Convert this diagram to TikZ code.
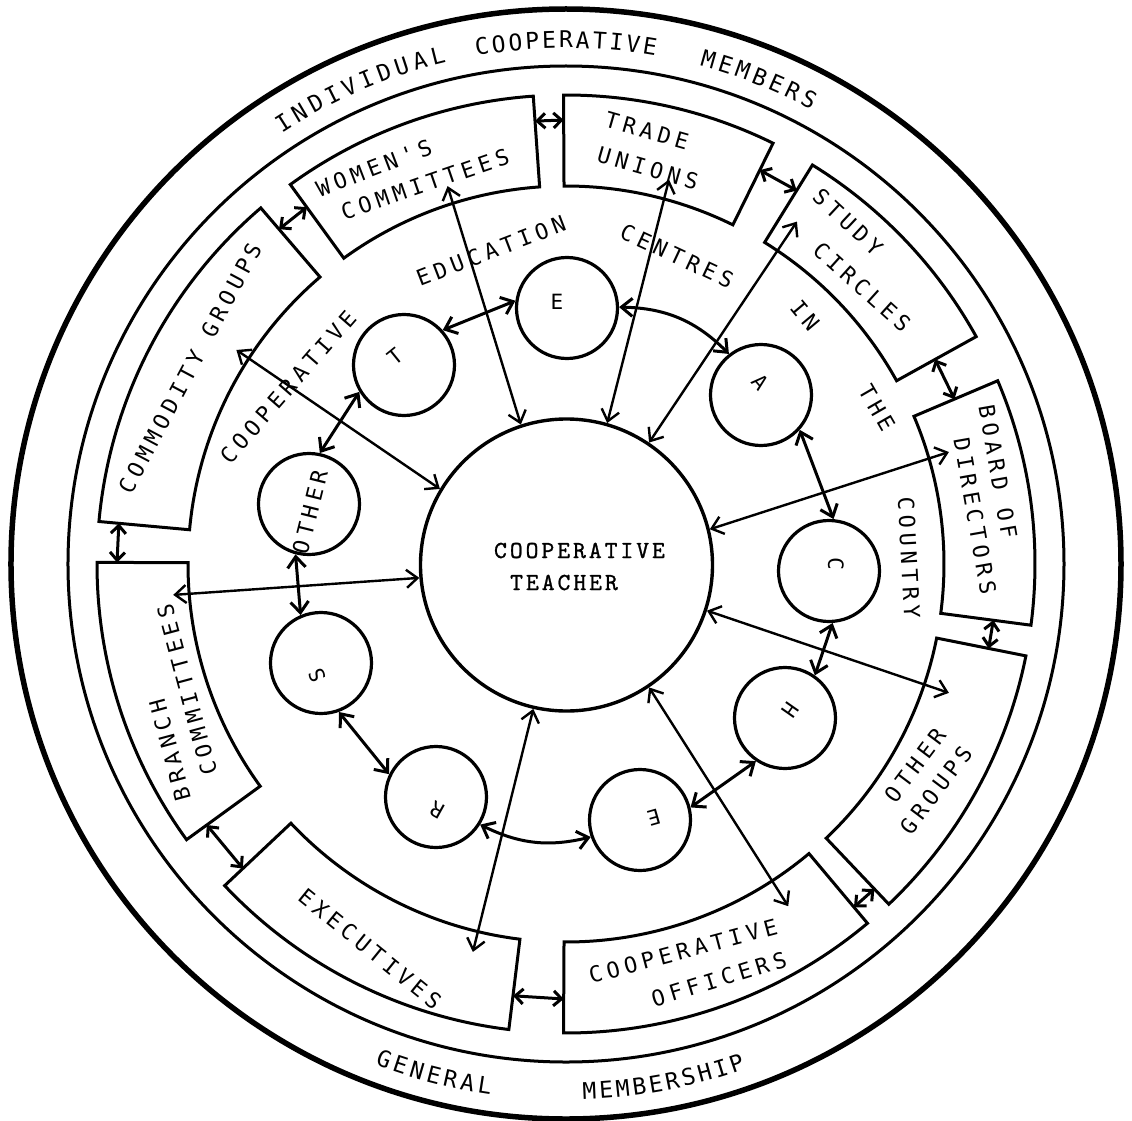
\documentclass[tikz,border=0pt]{standalone}
\usepackage{fontspec}
\usetikzlibrary{arrows.meta,decorations.text}
\newfontfamily\plotfont[LetterSpace=22]{DejaVu Sans Mono}
\newfontfamily\ringfam{DejaVu Sans Mono}
\newfontfamily\typefam[Extension=.otf, LetterSpace=12, FakeBold=1]{lmmono10-regular}
\newcommand\mybox{\plotfont\fontsize{22}{26}\selectfont}
\newcommand\mysmall{\plotfont\fontsize{21}{25}\selectfont}
\newcommand\myring{\ringfam\fontsize{23}{27}\selectfont}
\newcommand\mytype{\typefam\fontsize{24.5}{32}\selectfont}
\tikzset{
  boxline/.style={line width=3pt, line join=miter},
  bigc/.style={circle, draw, line width=3.4pt, minimum size=292pt, inner sep=0pt},
  smallc/.style={circle, draw, line width=3.2pt, minimum size=101pt, inner sep=0pt},
  lbl/.style={font=\mybox, inner sep=0pt},
  ltr/.style={font=\mysmall, inner sep=0pt},
  ctext/.style={font=\mytype, inner sep=0pt},
  radarrow/.style={line width=2.4pt, >={Straight Barb[length=11pt,width=18pt]}, <->},
  circarrow/.style={line width=3pt, >={Straight Barb[length=11pt,width=18pt]}, <->},
  gaparrow/.style={line width=3pt, >={Straight Barb[length=8pt,width=15pt]}, <->},
  ringtext/.style={decorate, decoration={text along path, text align={fit to path}, text={|\myring|#1}}},
}
\begin{document}
\begin{tikzpicture}[x=1pt,y=1pt]
\useasboundingbox (-566,-556) rectangle (566,564);
\fill[white] (-566,-556) rectangle (566,564);

% outer rings
\draw[line width=5.5pt] (0,0) circle[radius=555pt];
\draw[line width=3pt] (0,0) circle[radius=498pt];

% ring texts
\path[ringtext=INDIVIDUAL] (123.4:516pt) arc[start angle=123.4, end angle=103.4, radius=516pt];
\path[ringtext=COOPERATIVE] (100:516pt) arc[start angle=100, end angle=80, radius=516pt];
\path[ringtext=MEMBERS] (75:516pt) arc[start angle=75, end angle=61.6, radius=516pt];
\path[ringtext=GENERAL] (-110.9:536pt) arc[start angle=-110.9, end angle=-98.1, radius=536pt];
\path[ringtext=MEMBERSHIP] (-88.2:536pt) arc[start angle=-88.2, end angle=-70.4, radius=536pt];

% boxes (annular sectors)
\foreach \sa/\sb in {63.8/90.3, 94/126, 130.6/174.8, 179.8/216, 223.3/263, 269.7/310, 313.5/348.7, 352.5/383, 29/58.3}
  \draw[boxline] (\sa:378pt) arc[start angle=\sa, end angle=\sb, radius=378pt] -- (\sb:469pt) arc[start angle=\sb, end angle=\sa, radius=469pt] -- cycle;

% box labels
\node[lbl, rotate=-16] (tu1) at (81,433) {TRADE};
\node[lbl, rotate=-16] (tu2) at (82,396) {UNIONS};
\node[lbl, rotate=21] (wc1) at (-192,396) {WOMEN'S};
\node[lbl, rotate=19] (wc2) at (-141,380) {COMMITTEES};
\node[lbl, rotate=62] (cg1) at (-376,196) {COMMODITY GROUPS};
\node[lbl, rotate=105] (bc1) at (-396,-186) {BRANCH};
\node[lbl, rotate=105] (bc2) at (-379,-126) {COMMITTEES};
\node[lbl, rotate=-39] (ex1) at (-196,-385) {EXECUTIVES};
\node[lbl, rotate=15] (co1) at (117,-387) {COOPERATIVE};
\node[lbl, rotate=17] (co2) at (153,-415) {OFFICERS};
\node[lbl, rotate=53] (og1) at (349,-201) {OTHER};
\node[lbl, rotate=53] (og2) at (370,-226) {GROUPS};
\node[lbl, rotate=-80] (bd1) at (432,92) {BOARD OF};
\node[lbl, rotate=-80] (bd2) at (409,48) {DIRECTORS};
\node[lbl, rotate=-43] (sc1) at (282,342) {STUDY};
\node[lbl, rotate=-42] (sc2) at (296,277) {CIRCLES};

% inner ring words
\node[lbl, rotate=49] (w1) at (-278,177) {COOPERATIVE};
\node[lbl, rotate=21] (w2) at (-75,313) {EDUCATION};
\node[lbl, rotate=-25] (w3) at (111,308) {CENTRES};
\node[lbl, rotate=-50] (w4) at (239,249) {IN};
\node[lbl, rotate=-60] (w5) at (311,156) {THE};
\node[lbl, rotate=-87] (w6) at (343,6) {COUNTRY};

% central circle
\node[bigc] (CT) at (0.5,-1) {};
\node[ctext] (ct1) at (13.5,13.5) {COOPERATIVE};
\node[ctext] (ct2) at (-2,-18.5) {TEACHER};

% small circles
\node[smallc] (cT) at (-162,199) {};
\node[smallc] (cE1) at (1,256) {};
\node[smallc] (cA) at (195,169) {};
\node[smallc] (cC) at (263,-7) {};
\node[smallc] (cH) at (219,-154) {};
\node[smallc] (cE2) at (74,-256) {};
\node[smallc] (cR) at (-130,-233) {};
\node[smallc] (cS) at (-245,-99) {};
\node[smallc] (cO) at (-257,60) {};

\node[ltr, rotate=39] (lT) at (-171,207) {T};
\node[ltr] (lE1) at (-9,262) {E};
\node[ltr, rotate=-49] (lA) at (194,182) {A};
\node[ltr, rotate=-91] (lC) at (270,0) {C};
\node[ltr, rotate=-125] (lH) at (224,-146) {H};
\node[ltr, rotate=-164] (lE2) at (88,-254) {E};
\node[ltr, rotate=151] (lR) at (-129,-246) {R};
\node[ltr, rotate=112] (lS) at (-249,-111) {S};
\node[lbl, rotate=76] (lO) at (-256,52) {OTHER};

% arrows between small circles
\draw[circarrow] (cT.42) -- (cE1.172);
\draw[circarrow] (cE1.1) to[bend left=22] (cA.128);
\draw[circarrow] (cA.-42) -- (cC.85);
\draw[circarrow] (cC.-86) -- (cH.55);
\draw[circarrow] (cH.-124) -- (cE2.14);
\draw[circarrow] (cR.-32) to[bend right=20] (cE2.199);
\draw[circarrow] (cS.-70) -- (cR.154);
\draw[circarrow] (cO.-105) -- (cS.113);
\draw[circarrow] (cT.-149) -- (cO.78);

% radial arrows to boxes
\coordinate (wcE) at (107.4:396pt);
\coordinate (tuE) at (75:398pt);
\coordinate (scE) at (56:413pt);
\coordinate (bdE) at (16.3:399pt);
\coordinate (ogE) at (-18.6:404pt);
\coordinate (coE) at (-57:408pt);
\coordinate (exE) at (-103.5:399pt);
\coordinate (bcE) at (-175.5:394pt);
\coordinate (cgE) at (147:393pt);
\draw[radarrow] (CT.108) -- (wcE);
\draw[radarrow] (CT.74.4) -- (tuE);
\draw[radarrow] (CT.56.6) -- (scE);
\draw[radarrow] (CT.14.8) -- (bdE);
\draw[radarrow] (CT.-18.2) -- (ogE);
\draw[radarrow] (CT.-56) -- (coE);
\draw[radarrow] (CT.-103.8) -- (exE);
\draw[radarrow] (CT.-175) -- (bcE);
\draw[radarrow] (CT.149.6) -- (cgE);

% arrows between boxes
\coordinate (g1a) at (90.3:444pt);  \coordinate (g1b) at (94:444pt);
\coordinate (g2a) at (126:441pt);   \coordinate (g2b) at (130.6:441pt);
\coordinate (g3a) at (174.8:449pt); \coordinate (g3b) at (179.8:449pt);
\coordinate (g4a) at (216:444pt);   \coordinate (g4b) at (223.3:444pt);
\coordinate (g5a) at (263:435pt);   \coordinate (g5b) at (269.7:435pt);
\coordinate (g6a) at (310:448pt);   \coordinate (g6b) at (313.5:448pt);
\coordinate (g7a) at (348.7:431pt); \coordinate (g7b) at (352.5:431pt);
\coordinate (g8a) at (23:422pt);    \coordinate (g8b) at (29:422pt);
\coordinate (g9a) at (58.3:439pt);  \coordinate (g9b) at (63.8:439pt);
\foreach \g in {1,...,9}
  \draw[gaparrow] (g\g a) -- (g\g b);
\end{tikzpicture}
\end{document}
